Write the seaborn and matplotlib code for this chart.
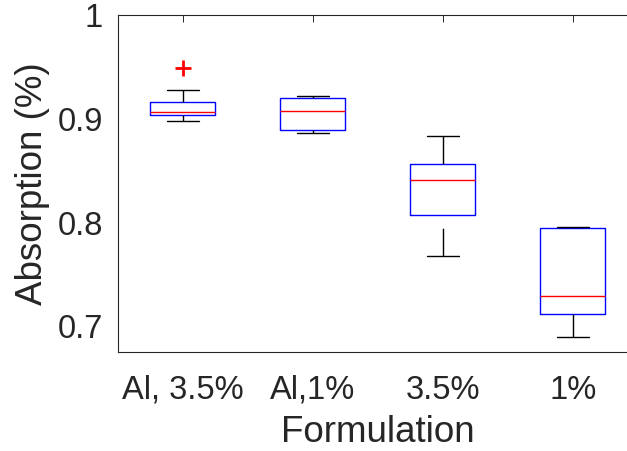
import numpy as np
import pandas as pd
import matplotlib
matplotlib.use("Agg")
import matplotlib.pyplot as plt
import seaborn as sns

# Measured absorption per formulation
formulations = ["Al, 3.5%", "Al,1%", "3.5%", "1%"]
al_35 = [0.8984, 0.902, 0.9042, 0.905, 0.9064, 0.911, 0.9164, 0.928, 0.9493]
al_1 = [0.8870, 0.8894, 0.9074, 0.9200, 0.9223]
plain_35 = [0.7680, 0.8077, 0.8416, 0.8567, 0.8832]
plain_1 = [0.6900, 0.7119, 0.7290, 0.7945, 0.7955]
y_ticks = [0.7, 0.8, 0.9, 1.0]
y_tick_labels = ["0.7", "0.8", "0.9", "1"]

groups = [al_35, al_1, plain_35, plain_1]
df = pd.DataFrame({
    "Formulation": np.repeat(formulations, [len(g) for g in groups]),
    "Absorption": np.concatenate(groups),
})

sns.set_style("white")
plt.rcParams["font.family"] = ["Liberation Sans", "DejaVu Sans"]
plt.rcParams["lines.scale_dashes"] = False

axis_color = "#262626"

fig = plt.figure(figsize=(6.27, 4.51), dpi=100)
ax = fig.add_axes([0.1882, 0.2188, 0.8293, 0.7472])

sns.boxplot(
    data=df, x="Formulation", y="Absorption", order=formulations, ax=ax,
    width=0.5, fill=False, linewidth=1.0, whis=1.5,
    boxprops={"color": "#0000ff"},
    medianprops={"color": "#ff0000"},
    whiskerprops={"color": "black", "linestyle": (0, (20, 10))},
    capprops={"color": "black"},
    flierprops={"marker": "+", "markeredgecolor": "#ff0000",
                "markerfacecolor": "#ff0000", "markersize": 12,
                "markeredgewidth": 2.0},
)

# Run the whisker dashes outward from the caps toward the box
for line in ax.lines:
    x, y = line.get_data()
    x = np.asarray(x, dtype=float)
    y = np.asarray(y, dtype=float)
    if len(x) == 2 and x[0] == x[1] and y[0] != y[1]:
        line.set_data(x[::-1], y[::-1])

ax.set_xlim(-0.5, 3.5)
ax.set_ylim(0.675, 1.0)
ax.set_yticks(y_ticks)
ax.set_yticklabels(y_tick_labels)

for side in ["left", "right", "top", "bottom"]:
    ax.spines[side].set_visible(True)
    ax.spines[side].set_color(axis_color)
    ax.spines[side].set_linewidth(0.8)

ax.tick_params(axis="both", direction="in", length=5, width=0.7,
               color=axis_color, labelcolor=axis_color, labelsize=23.5,
               top=True, right=True)
ax.tick_params(axis="x", pad=16)
ax.tick_params(axis="y", pad=11)

ax.set_xlabel("Formulation", fontsize=26.5, color=axis_color, labelpad=7)
ax.set_ylabel("Absorption (%)", fontsize=26.5, color=axis_color, labelpad=5)

fig.savefig("out.png", dpi=100)
